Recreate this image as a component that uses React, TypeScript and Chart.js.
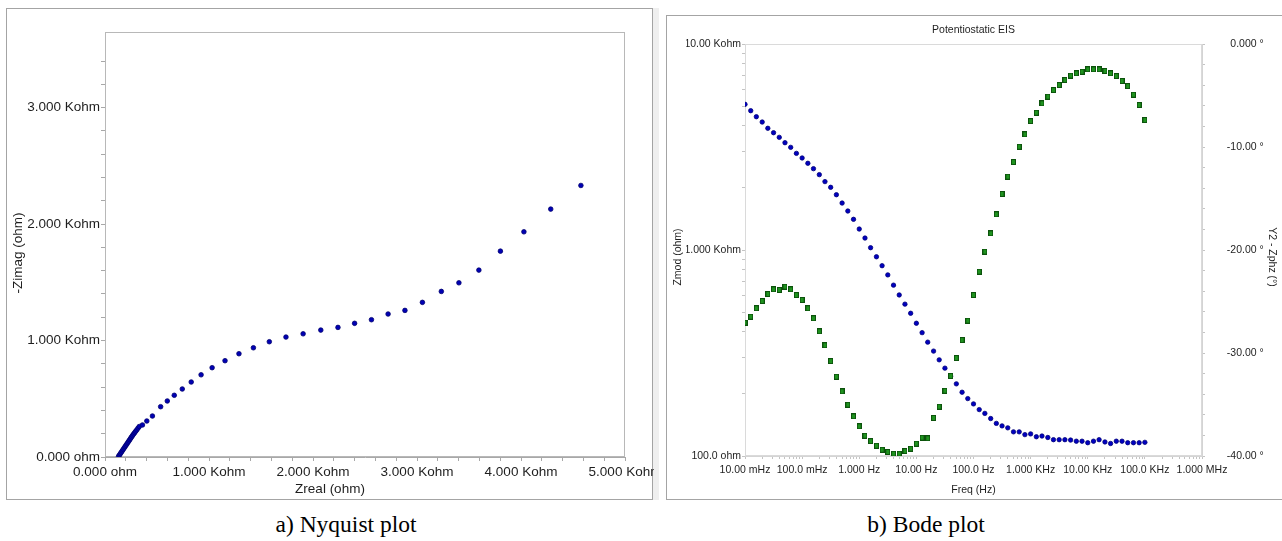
import React, { useEffect, useRef } from 'react';
import { Chart, registerables } from 'chart.js';
Chart.register(...registerables);

const SANS = "'Liberation Sans', Arial, Helvetica, sans-serif";
const SERIF = "'Liberation Serif', 'Times New Roman', Times, serif";

// ---------- Nyquist data (ohm) ----------
const nyqZreal = [130, 139, 148, 157, 166, 175, 184, 193, 202, 211, 220, 229, 238, 247, 256, 265, 275, 285, 295, 306, 318, 330,
  360, 402, 456, 535, 599, 666, 743, 829, 924, 1030, 1154, 1288, 1427, 1580, 1740, 1905, 2075, 2240, 2400, 2562, 2722, 2884,
  3052, 3234, 3403, 3595, 3802, 4028, 4286, 4576];
const nyqZimag = [5, 17, 29, 41, 53, 65, 77, 89, 101, 113, 125, 137, 149, 161, 173, 185, 197, 209, 221, 233, 248, 262,
  275, 309, 352, 432, 481, 530, 584, 644, 706, 767, 827, 887, 938, 990, 1030, 1058, 1090, 1113, 1148, 1179, 1228, 1259,
  1328, 1422, 1496, 1605, 1768, 1934, 2129, 2332];
const nyqXTickLabels = ['0.000 ohm', '1.000 Kohm', '2.000 Kohm', '3.000 Kohm', '4.000 Kohm', '5.000 Kohm'];
const nyqYTickLabels = ['0.000 ohm', '1.000 Kohm', '2.000 Kohm', '3.000 Kohm'];

// ---------- Bode data ----------
const bodeFreq = [
  0.01, 0.0126, 0.0158, 0.02, 0.0251, 0.0316, 0.0398, 0.0501, 0.0631, 0.0794,
  0.1, 0.126, 0.158, 0.2, 0.251, 0.316, 0.398, 0.501, 0.631, 0.794,
  1, 1.26, 1.58, 2, 2.51, 3.16, 3.98, 5.01, 6.31, 7.94,
  10, 12.6, 15.8, 20, 25.1, 31.6, 39.8, 50.1, 63.1, 79.4,
  100, 126, 158, 200, 251, 316, 398, 501, 631, 794,
  1000, 1260, 1580, 2000, 2510, 3160, 3980, 5010, 6310, 7940,
  10000, 12600, 15800, 20000, 25100, 31600, 39800, 50100, 63100, 79400,
  100000];
const bodeZmod = [
  5096, 4745, 4436, 4180, 3898, 3710, 3523, 3318, 3150, 2945, 2797, 2636, 2482, 2322, 2148, 2015, 1855, 1690, 1546, 1409,
  1264, 1143, 1026, 927, 839, 757, 675, 605, 546, 493, 441, 397, 357, 323, 293, 267, 244, 224, 204, 190,
  179, 168, 161, 152, 144, 140, 137, 131, 131, 127, 128, 124, 125, 123, 120, 120, 120, 119.5, 118, 118,
  116, 118, 120, 117, 115, 118, 118, 116, 116, 116, 116.5];
const bodePhase = [
  -27.06, -26.47, -25.66, -24.95, -24.27, -23.82, -23.88, -23.56, -23.82, -24.37, -24.85, -25.66, -26.63, -27.9, -29.25,
  -30.78, -32.3, -33.72, -35.02, -36.15, -37.12, -38.03, -38.55, -39.0, -39.39, -39.61, -39.78, -39.78, -39.52, -39.29,
  -38.8, -38.22, -38.28, -36.31, -35.21, -33.66, -32.23, -30.49, -28.74, -26.86, -24.37, -22.1,
  -20.16, -18.38, -16.54, -14.56, -12.88, -11.46, -9.97, -8.77, -7.48, -6.67, -5.76, -5.11, -4.47, -3.98, -3.5,
  -3.07, -2.85, -2.69, -2.46, -2.46, -2.46, -2.62, -2.85, -3.11, -3.59, -4.08, -4.92, -5.92, -7.38];
const bodeFreqLabels = ['10.00 mHz', '100.0 mHz', '1.000 Hz', '10.00 Hz', '100.0 Hz', '1.000 KHz', '10.00 KHz', '100.0 KHz', '1.000 MHz'];
const bodeZmodLabels = ['100.0 ohm', '1.000 Kohm', '10.00 Kohm'];
const bodePhaseLabels = ['-40.00 °', '-30.00 °', '-20.00 °', '-10.00 °', '0.000 °'];

// ---------- helpers ----------
const noPad = (s: any) => { s.paddingLeft = 0; s.paddingRight = 0; s.paddingTop = 0; s.paddingBottom = 0; };
const fitW = (w: number) => (s: any) => { s.width = w; noPad(s); };
const fitH = (h: number) => (s: any) => { s.height = h; noPad(s); };
const keepStep = (step: number) => (s: any) => {
  s.ticks = s.ticks.filter((t: any) => Math.abs(t.value / step - Math.round(t.value / step)) < 1e-6);
};
const keepLogMultiples = (s: any) => {
  s.ticks = s.ticks.filter((t: any) => {
    const e = Math.floor(Math.log10(t.value) + 1e-9);
    const m = t.value / Math.pow(10, e);
    return Math.abs(m - Math.round(m)) < 1e-6;
  });
};
const decadeLabel = (labels: string[], minExp: number) => (v: any) => {
  const e = Math.log10(Number(v));
  const r = Math.round(e);
  return Math.abs(e - r) < 1e-6 ? (labels[r - minExp] ?? '') : '';
};
const frame = (color: string) => ({
  id: 'plotFrame',
  beforeDatasetsDraw(chart: any) {
    const { ctx, chartArea: a } = chart;
    ctx.save();
    ctx.strokeStyle = color;
    ctx.lineWidth = 1;
    ctx.strokeRect(Math.round(a.left) + 0.5, Math.round(a.top) + 0.5, Math.round(a.right - a.left) - 1, Math.round(a.bottom - a.top) - 1);
    ctx.restore();
  },
});
const dummyAxis = (position: string, fit: (s: any) => void, extra: any = {}) => ({
  type: 'linear', position, display: true,
  ticks: { display: false }, grid: { display: false }, border: { display: false },
  afterFit: fit, ...extra,
});

export default function App() {
  const nyqRef = useRef<HTMLCanvasElement>(null);
  const bodeRef = useRef<HTMLCanvasElement>(null);

  useEffect(() => {
    const f135 = { family: SANS, size: 13.5, weight: 'normal' as const, lineHeight: 1.2 };
    const f105 = { family: SANS, size: 10.5, weight: 'normal' as const, lineHeight: 1.2 };
    const txt = '#1e1e1e';

    const nyqPoints = nyqZreal.map((x, i) => ({ x, y: nyqZimag[i] }));
    const nyq = new Chart(nyqRef.current!, {
      type: 'scatter',
      data: {
        datasets: [{
          data: nyqPoints, showLine: false, pointStyle: 'circle', pointRadius: 2.3, pointBorderWidth: 0.8,
          pointBackgroundColor: '#0000b4', pointBorderColor: '#00006e',
        }],
      },
      options: {
        responsive: false, animation: false, events: [],
        layout: { padding: 0 },
        plugins: {
          legend: { display: false }, tooltip: { enabled: false },
          title: { display: true, text: 'Zreal (ohm)', position: 'bottom', color: txt, font: f135, padding: { top: 2, bottom: 1 } },
          subtitle: { display: true, text: '-Zimag (ohm)', position: 'left', color: txt, font: f135, padding: { top: 3.9, bottom: 1 } },
        },
        scales: {
          x: {
            type: 'linear', position: 'bottom', min: 0, max: 5000,
            afterFit: fitH(21.8), afterBuildTicks: keepStep(200),
            ticks: {
              stepSize: 200, autoSkip: false, maxRotation: 0, minRotation: 0, padding: 3, color: txt, font: f135,
              callback: (v: any) => (Math.round(v) % 1000 === 0 ? nyqXTickLabels[Math.round(v) / 1000] : ''),
            },
            grid: { drawOnChartArea: false, tickLength: 4, color: '#a8a8a8' },
            border: { color: '#a8a8a8' },
          },
          y: {
            type: 'linear', position: 'left', min: 0, max: 3650,
            afterFit: fitW(77.9), afterBuildTicks: keepStep(200),
            ticks: {
              stepSize: 200, autoSkip: false, padding: 1, color: txt, font: f135,
              callback: (v: any) => (Math.round(v) % 1000 === 0 ? nyqYTickLabels[Math.round(v) / 1000] : ''),
            },
            grid: { drawOnChartArea: false, tickLength: 4, color: '#a8a8a8' },
            border: { color: '#a8a8a8' },
          },
          x2: dummyAxis('top', fitH(24)) as any,
          y2: dummyAxis('right', fitW(29)) as any,
        },
      } as any,
      plugins: [frame('#b8b8b8')],
    });

    const sq = document.createElement('canvas');
    sq.width = 5; sq.height = 6;
    const g = sq.getContext('2d')!;
    g.fillStyle = '#0c520c'; g.fillRect(0, 0, 5, 6);
    g.fillStyle = '#1f931f'; g.fillRect(1, 1, 3, 4);

    const bode = new Chart(bodeRef.current!, {
      type: 'scatter',
      data: {
        datasets: [
          {
            data: bodeFreq.map((x, i) => ({ x, y: bodePhase[i] })), yAxisID: 'y2', showLine: false,
            pointStyle: sq as any, pointRadius: 3,
          },
          {
            data: bodeFreq.map((x, i) => ({ x, y: bodeZmod[i] })), yAxisID: 'y', showLine: false,
            pointStyle: 'circle', pointRadius: 2.2, pointBorderWidth: 0.8,
            pointBackgroundColor: '#0000c0', pointBorderColor: '#000078',
          },
        ],
      },
      options: {
        responsive: false, animation: false, events: [],
        layout: { padding: 0 },
        plugins: {
          legend: { display: false }, tooltip: { enabled: false },
          title: { display: true, text: 'Zmod (ohm)', position: 'left', color: txt, font: f105, padding: { top: 5.7, bottom: 2 } },
          subtitle: { display: true, text: 'Y2 - Zphz (°)', position: 'right', color: txt, font: f105, padding: { top: 3.7, bottom: 2 } },
        },
        scales: {
          x: {
            type: 'logarithmic', position: 'bottom', min: 0.01, max: 1000000,
            afterFit: fitH(42), afterBuildTicks: keepLogMultiples,
            ticks: { autoSkip: false, maxRotation: 0, minRotation: 0, padding: 5, color: txt, font: f105, callback: decadeLabel(bodeFreqLabels, -2) },
            grid: { drawOnChartArea: false, tickLength: 3, color: '#c4c4c4' },
            border: { color: '#d4d4d4' },
            title: { display: true, text: 'Freq (Hz)', color: txt, font: f105, padding: { top: 0, bottom: 1.7 } },
          },
          y: {
            type: 'logarithmic', position: 'left', min: 100, max: 10000,
            afterFit: fitW(58.7), afterBuildTicks: keepLogMultiples,
            ticks: { autoSkip: false, padding: 1, color: txt, font: f105, callback: decadeLabel(bodeZmodLabels, 2) },
            grid: { drawOnChartArea: false, tickLength: 3, color: '#c4c4c4' },
            border: { color: '#d4d4d4' },
          },
          y2: {
            type: 'linear', position: 'right', min: -40, max: 0,
            afterFit: fitW(61.7), afterBuildTicks: keepStep(2),
            ticks: {
              stepSize: 2, autoSkip: false, crossAlign: 'far', padding: 8, color: txt, font: f105,
              callback: (v: any) => (Math.round(v) % 10 === 0 ? bodePhaseLabels[(Math.round(v) + 40) / 10] : ''),
            },
            grid: { drawOnChartArea: false, tickLength: 3, color: '#c4c4c4' },
            border: { color: '#d4d4d4' },
          },
          x2: dummyAxis('top', fitH(28), {
            title: { display: true, text: 'Potentiostatic EIS', color: txt, font: f105, padding: { top: 7.7, bottom: 0 } },
          }) as any,
        },
      } as any,
      plugins: [frame('#dadada')],
    });

    return () => { nyq.destroy(); bode.destroy(); };
  }, []);

  const abs = (s: React.CSSProperties): React.CSSProperties => ({ position: 'absolute', boxSizing: 'border-box', ...s });

  return (
    <div style={abs({ left: 0, top: 0, width: 1282, height: 541, overflow: 'hidden', background: '#fff' })}>
      <div style={abs({ left: 6, top: 8, width: 647, height: 492, border: '1px solid #a4a4a4' })} />
      <div style={abs({ left: 653, top: 8, width: 6, height: 492, background: '#efefef' })} />
      <div style={abs({ left: 666, top: 15, width: 630, height: 485, border: '1px solid #a4a4a4' })} />
      <canvas ref={nyqRef} width={648} height={490} style={abs({ left: 6, top: 8, width: 648, height: 490 })} />
      <canvas ref={bodeRef} width={616} height={482} style={abs({ left: 666, top: 16, width: 616, height: 482 })} />
      <div style={abs({ left: 246, top: 513, width: 200, textAlign: 'center', fontFamily: SERIF, fontSize: 23.5, lineHeight: 1, color: '#000', whiteSpace: 'nowrap' })}>a) Nyquist plot</div>
      <div style={abs({ left: 826, top: 513, width: 200, textAlign: 'center', fontFamily: SERIF, fontSize: 23.5, lineHeight: 1, color: '#000', whiteSpace: 'nowrap' })}>b) Bode plot</div>
    </div>
  );
}
